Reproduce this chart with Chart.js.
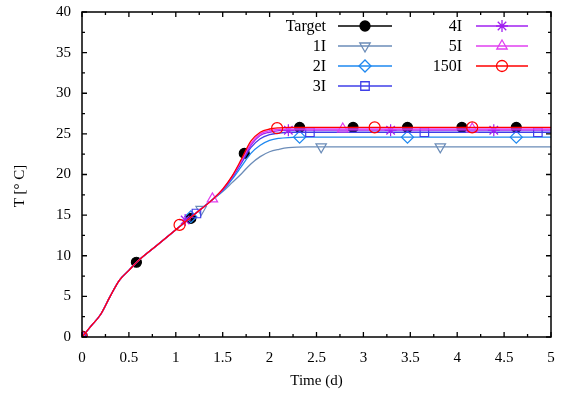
<!DOCTYPE html>
<html>
<head>
<meta charset="utf-8">
<script src="https://cdn.jsdelivr.net/npm/chart.js@4"></script>
<style>
  html, body { margin: 0; padding: 0; background: #fff; }
  #wrap { width: 562px; height: 395px; }
</style>
</head>
<body>
<div id="wrap"><canvas id="tempChart"></canvas></div>
<script>
// time grid (d) for the simulated curves
const curveTime = [0, 0.1, 0.2, 0.3, 0.4, 0.5, 0.6, 0.8, 1.0, 1.2, 1.4, 1.5, 1.6, 1.7, 1.8, 1.9, 2.0, 2.1, 2.2, 2.4, 2.6, 3.0, 4.0, 5.0];

// simulated temperature (deg C) per model
const curve1I   = [0, 1.4, 2.8, 5.0, 7.0, 8.2, 9.4, 11.3, 13.2, 15.1, 17.0, 17.9, 19.0, 20.1, 21.3, 22.2, 22.8, 23.1, 23.3, 23.4, 23.4, 23.4, 23.4, 23.4];
const curve2I   = [0, 1.4, 2.8, 5.0, 7.0, 8.2, 9.4, 11.3, 13.2, 15.1, 17.0, 18.0, 19.4, 21.0, 22.6, 23.6, 24.2, 24.45, 24.55, 24.6, 24.6, 24.6, 24.6, 24.6];
const curve3I   = [0, 1.4, 2.8, 5.0, 7.0, 8.2, 9.4, 11.3, 13.2, 15.1, 17.0, 18.1, 19.6, 21.4, 23.3, 24.4, 24.9, 25.1, 25.2, 25.2, 25.2, 25.2, 25.2, 25.2];
const curve4I   = [0, 1.4, 2.8, 5.0, 7.0, 8.2, 9.4, 11.3, 13.2, 15.1, 17.0, 18.1, 19.7, 21.6, 23.6, 24.8, 25.2, 25.4, 25.45, 25.45, 25.45, 25.45, 25.45, 25.45];
const curve5I   = [0, 1.4, 2.8, 5.0, 7.0, 8.2, 9.4, 11.3, 13.2, 15.1, 17.0, 18.2, 19.75, 21.7, 23.8, 25.0, 25.4, 25.55, 25.6, 25.6, 25.6, 25.6, 25.6, 25.6];
const curve150I = [0, 1.4, 2.8, 5.0, 7.0, 8.2, 9.4, 11.3, 13.2, 15.1, 17.0, 18.2, 19.8, 21.9, 24.1, 25.2, 25.6, 25.75, 25.8, 25.8, 25.8, 25.8, 25.8, 25.8];

// marker positions (time, temperature)
const targetTime = [0, 0.58, 1.16, 1.73, 2.32, 2.89, 3.47, 4.05, 4.63];
const targetTemp = [0.1, 9.2, 14.6, 22.6, 25.8, 25.8, 25.8, 25.8, 25.8];
const mark1ITime = [0, 1.27, 2.55, 3.82];
const mark1ITemp = [0, 15.7, 23.4, 23.4];
const mark2ITime = [0, 1.16, 2.32, 3.47, 4.63];
const mark2ITemp = [0, 14.8, 24.6, 24.6, 24.6];
const mark3ITime = [0, 1.22, 2.43, 3.65, 4.86];
const mark3ITemp = [0, 15.2, 25.2, 25.2, 25.2];
const mark4ITime = [0, 1.1, 2.2, 3.29, 4.39];
const mark4ITemp = [0, 14.4, 25.45, 25.45, 25.45];
const mark5ITime = [0, 1.39, 2.78, 4.16];
const mark5ITemp = [0, 17.0, 25.6, 25.6];
const mark150ITime = [0, 1.04, 2.08, 3.12, 4.16];
const mark150ITemp = [0, 13.8, 25.7, 25.8, 25.8];

const xTicks = [0, 0.5, 1, 1.5, 2, 2.5, 3, 3.5, 4, 4.5, 5];
const yTicks = [0, 5, 10, 15, 20, 25, 30, 35, 40];
const yTitle = 'T [° C]';

const serif = '"Liberation Serif", "DejaVu Serif", serif';
const clear = 'rgba(0,0,0,0)';

function toPoints(xs, ys) {
    return xs.map((x, i) => ({ x: x, y: ys[i] }));
}

// one entry per series: label, colour, curve, markers, point style
const series = [
    { label: 'Target', color: '#000000', curve: null, mx: targetTime, my: targetTemp, style: 'circle', rot: 0, fill: '#000000', r: 5 },
    { label: '1I', color: '#6b8cb8', curve: curve1I, mx: mark1ITime, my: mark1ITemp, style: 'triangle', rot: 180, fill: clear, r: 6 },
    { label: '2I', color: '#1e88f0', curve: curve2I, mx: mark2ITime, my: mark2ITemp, style: 'rectRot', rot: 0, fill: clear, r: 6 },
    { label: '3I', color: '#3f3fe8', curve: curve3I, mx: mark3ITime, my: mark3ITemp, style: 'rect', rot: 0, fill: clear, r: 6 },
    { label: '4I', color: '#a020f0', curve: curve4I, mx: mark4ITime, my: mark4ITemp, style: 'star', rot: 0, fill: clear, r: 6 },
    { label: '5I', color: '#e040f0', curve: curve5I, mx: mark5ITime, my: mark5ITemp, style: 'triangle', rot: 0, fill: clear, r: 6 },
    { label: '150I', color: '#ff0000', curve: curve150I, mx: mark150ITime, my: mark150ITemp, style: 'circle', rot: 0, fill: clear, r: 5.5 }
];

const datasets = [];
series.forEach((s, i) => {
    const order = 2 * (series.length - i);
    if (s.curve) {
        datasets.push({
            label: s.label + ' curve',
            data: toPoints(curveTime, s.curve),
            showLine: true,
            borderColor: s.color,
            borderWidth: 1.3,
            pointRadius: 0,
            cubicInterpolationMode: 'monotone',
            order: order + 1
        });
    }
    datasets.push({
        label: s.label,
        data: toPoints(s.mx, s.my),
        showLine: false,
        pointStyle: s.style,
        rotation: s.rot,
        pointRadius: s.r,
        pointBorderWidth: 1.2,
        pointBorderColor: s.color,
        pointBackgroundColor: s.fill,
        order: order
    });
});

// gnuplot style key: text, short line, marker in the middle
const keyPlugin = {
    id: 'keyPlugin',
    afterDraw(chart) {
        const ctx = chart.ctx;
        const cols = [
            { textX: 326, lineA: 338, lineB: 392 },
            { textX: 462, lineA: 476, lineB: 528 }
        ];
        const rowY = [26, 46, 66, 86];
        ctx.save();
        ctx.font = '16px ' + serif;
        ctx.textAlign = 'right';
        ctx.textBaseline = 'middle';
        series.forEach((s, i) => {
            const col = cols[i < 4 ? 0 : 1];
            const y = rowY[i < 4 ? i : i - 4];
            ctx.fillStyle = '#000';
            ctx.fillText(s.label, col.textX, y + 1);
            ctx.strokeStyle = s.color;
            ctx.lineWidth = 1.3;
            ctx.beginPath();
            ctx.moveTo(col.lineA, y);
            ctx.lineTo(col.lineB, y);
            ctx.stroke();
            ctx.fillStyle = s.fill;
            Chart.helpers.drawPoint(ctx, {
                pointStyle: s.style,
                rotation: s.rot,
                radius: s.r,
                borderWidth: 1.2
            }, (col.lineA + col.lineB) / 2, y);
        });

        // y axis title, rotated, a little below the middle like gnuplot
        ctx.save();
        ctx.translate(20, 186);
        ctx.rotate(-Math.PI / 2);
        ctx.textAlign = 'center';
        ctx.font = '15px ' + serif;
        ctx.fillStyle = '#000';
        ctx.fillText(yTitle, 0, 0);
        ctx.restore();
        ctx.restore();
    }
};

// border and inward ticks on all four sides
const frameTicksPlugin = {
    id: 'frameTicks',
    afterDraw(chart) {
        const ctx = chart.ctx;
        const area = chart.chartArea;
        const xs = chart.scales.x;
        const ys = chart.scales.y;
        ctx.save();
        ctx.strokeStyle = '#000';
        ctx.lineWidth = 1.3;
        ctx.beginPath();
        for (let v = 0; v <= 5.001; v += 0.25) {
            const px = xs.getPixelForValue(v);
            const len = Math.abs(v * 2 - Math.round(v * 2)) < 1e-6 ? 5 : 3;
            ctx.moveTo(px, area.bottom);
            ctx.lineTo(px, area.bottom - len);
            ctx.moveTo(px, area.top);
            ctx.lineTo(px, area.top + len);
        }
        for (let v = 0; v <= 40.001; v += 2.5) {
            const py = ys.getPixelForValue(v);
            const len = Math.abs(v / 5 - Math.round(v / 5)) < 1e-6 ? 5 : 3;
            ctx.moveTo(area.left, py);
            ctx.lineTo(area.left + len, py);
            ctx.moveTo(area.right, py);
            ctx.lineTo(area.right - len, py);
        }
        ctx.stroke();
        ctx.lineWidth = 1.5;
        ctx.strokeRect(area.left, area.top, area.right - area.left, area.bottom - area.top);
        ctx.restore();
    }
};

// drop the label overflow padding so the plot box sits where gnuplot put it
function noOverflow(scale) {
    scale.paddingTop = 0;
    scale.paddingBottom = 0;
    scale.paddingLeft = 0;
    scale.paddingRight = 0;
}

const ctx = document.getElementById('tempChart').getContext('2d');
const tempChart = new Chart(ctx, {
    type: 'scatter',
    data: { datasets: datasets },
    options: {
        responsive: true,
        maintainAspectRatio: false,
        animation: false,
        events: [],
        layout: { padding: { top: 12, right: 11, left: 0, bottom: 0 } },
        plugins: {
            legend: { display: false },
            tooltip: { enabled: false }
        },
        scales: {
            x: {
                type: 'linear',
                min: 0,
                max: 5,
                afterFit(scale) { scale.height = 58; noOverflow(scale); },
                afterBuildTicks(scale) { scale.ticks = xTicks.map(v => ({ value: v })); },
                grid: { display: false, drawTicks: false },
                border: { display: false },
                ticks: {
                    padding: 12,
                    color: '#000',
                    font: { family: serif, size: 15 },
                    maxRotation: 0,
                    autoSkip: false,
                    callback: v => String(v)
                },
                title: {
                    display: true,
                    text: 'Time (d)',
                    color: '#000',
                    font: { family: serif, size: 15 },
                    padding: { top: 0, bottom: 5 }
                }
            },
            y: {
                type: 'linear',
                min: 0,
                max: 40,
                afterFit(scale) { scale.width = 82; noOverflow(scale); },
                afterBuildTicks(scale) { scale.ticks = yTicks.map(v => ({ value: v })); },
                grid: { display: false, drawTicks: false },
                border: { display: false },
                ticks: {
                    padding: 11,
                    color: '#000',
                    font: { family: serif, size: 15 },
                    autoSkip: false,
                    callback: v => String(v)
                },
                title: { display: false }
            }
        }
    },
    plugins: [frameTicksPlugin, keyPlugin]
});
</script>
</body>
</html>
